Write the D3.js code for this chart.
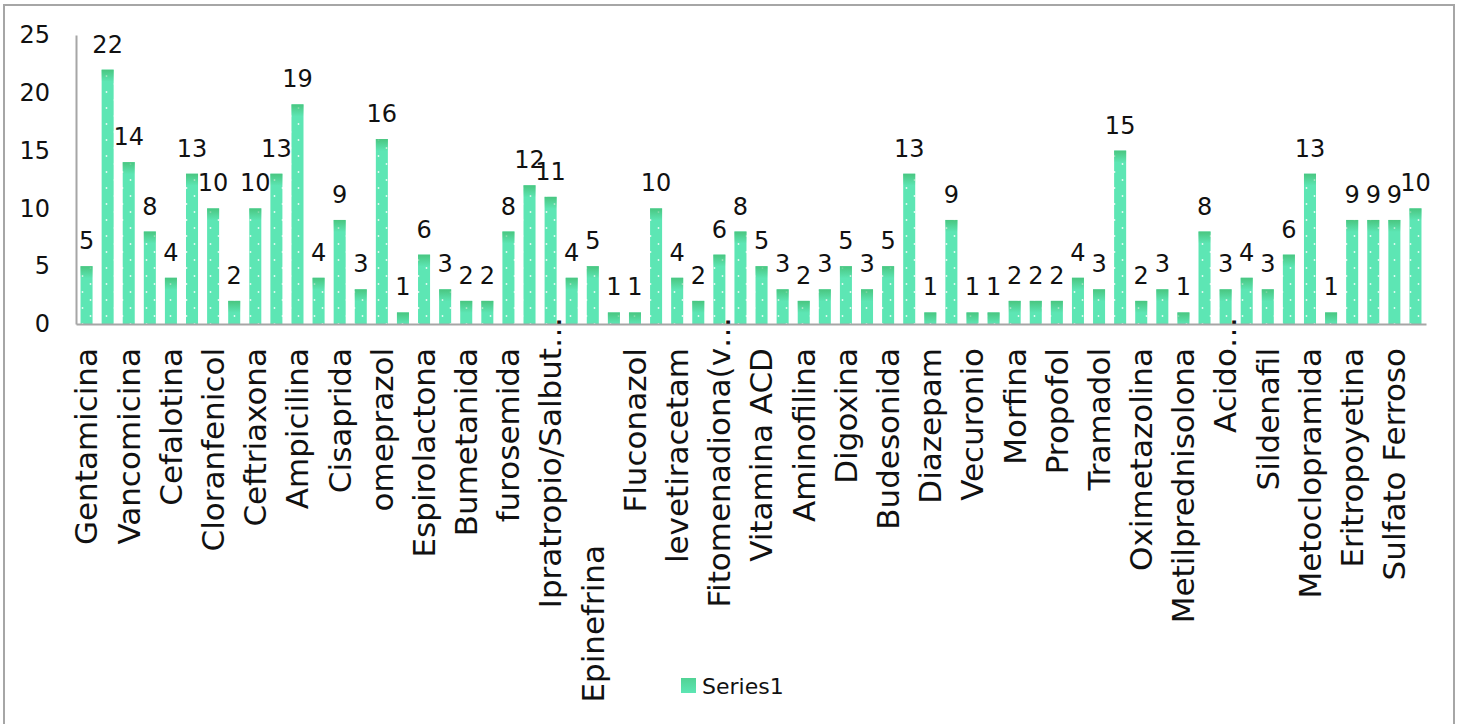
<!doctype html>
<html lang="en">
<head>
  <meta charset="utf-8">
  <title>Series1</title>
</head>

<style>
body {
	margin: 0;
	background: #fff;
	font-family: "Century Gothic", "DejaVu Sans", sans-serif;
}
</style>

<body>
  <script src="https://d3js.org/d3.v7.min.js"></script>
  <script>

	// only every other name is printed on the chart, the hidden ones are left empty
	var categories = [
		"Gentamicina", "", "Vancomicina", "", "Cefalotina", "", "Cloranfenicol", "",
		"Ceftriaxona", "", "Ampicilina", "", "Cisaprida", "", "omeprazol", "",
		"Espirolactona", "", "Bumetanida", "", "furosemida", "", "Ipratropio/Salbut…", "",
		"Epinefrina\u00a0\u00a0\u00a0\u00a0\u00a0\u00a0\u00a0\u00a0\u00a0\u00a0\u00a0\u00a0\u00a0\u00a0\u00a0\u00a0\u00a0\u00a0\u00a0\u00a0", "",
		"Fluconazol", "", "levetiracetam", "", "Fitomenadiona(v…", "",
		"Vitamina ACD", "", "Aminofilina", "", "Digoxina", "", "Budesonida", "",
		"Diazepam", "", "Vecuronio", "", "Morfina", "", "Propofol", "",
		"Tramadol", "", "Oximetazolina", "", "Metilprednisolona", "", "Acido…", "",
		"Sildenafil", "", "Metoclopramida", "", "Eritropoyetina", "", "Sulfato Ferroso", ""
	];

	var values = [
		5, 22, 14, 8, 4, 13, 10, 2, 10, 13, 19, 4, 9, 3, 16, 1,
		6, 3, 2, 2, 8, 12, 11, 4, 5, 1, 1, 10, 4, 2, 6, 8,
		5, 3, 2, 3, 5, 3, 5, 13, 1, 9, 1, 1, 2, 2, 2, 4,
		3, 15, 2, 3, 1, 8, 3, 4, 3, 6, 13, 1, 9, 9, 9, 10
	];

	var yTicks = [0, 5, 10, 15, 20, 25];
	var seriesName = "Series1";

	var mint = "#5de6b4",
		topGreen = "#47c27a",
		axisGrey = "#a6a6a6";

	var svg = d3.select("body").append("svg")
		.attr("width", 1461)
		.attr("height", 724);

	var plot = { left: 76, right: 1426, top: 35, bottom: 324 };

	var x = d3.scaleBand()
		.domain(d3.range(values.length))
		.range([plot.left, plot.right])
		.paddingInner(0.43)
		.paddingOuter(0.215);

	var y = d3.scaleLinear()
		.domain([0, 25])
		.range([plot.bottom, plot.top]);

	// dotted fill + darker green fade at the top of each bar
	var defs = svg.append("defs");

	var pat = defs.append("pattern")
		.attr("id", "dots")
		.attr("patternUnits", "userSpaceOnUse")
		.attr("width", 16)
		.attr("height", 16);
	pat.append("rect").attr("width", 16).attr("height", 16).attr("fill", mint);
	pat.append("circle").attr("cx", 2.5).attr("cy", 4).attr("r", 0.9).attr("fill", "#fff").attr("opacity", 0.85);
	pat.append("circle").attr("cx", 10.5).attr("cy", 12).attr("r", 0.9).attr("fill", "#fff").attr("opacity", 0.85);

	var grad = defs.append("linearGradient")
		.attr("id", "topfade")
		.attr("x1", 0).attr("y1", 0)
		.attr("x2", 0).attr("y2", 1);
	grad.append("stop").attr("offset", "0%").attr("stop-color", topGreen).attr("stop-opacity", 0.9);
	grad.append("stop").attr("offset", "100%").attr("stop-color", topGreen).attr("stop-opacity", 0);

	// chart frame
	svg.append("rect")
		.attr("x", 4)
		.attr("y", 5)
		.attr("width", 1450)
		.attr("height", 740)
		.attr("fill", "none")
		.attr("stroke", axisGrey)
		.attr("stroke-width", 2);

	// Bars
	svg.selectAll(".bar")
		.data(values)
		.join("rect")
		.classed("bar", true)
		.attr("x", function (d, i) { return x(i); })
		.attr("y", function (d) { return y(d); })
		.attr("width", x.bandwidth())
		.attr("height", function (d) { return y(0) - y(d); })
		.attr("fill", "url(#dots)");

	svg.selectAll(".bartop")
		.data(values)
		.join("rect")
		.classed("bartop", true)
		.attr("x", function (d, i) { return x(i); })
		.attr("y", function (d) { return y(d); })
		.attr("width", x.bandwidth())
		.attr("height", function (d) { return Math.min(12, y(0) - y(d)); })
		.attr("fill", "url(#topfade)");

	// Y axis
	var yAxis = svg.append("g")
		.attr("transform", "translate(" + plot.left + ",0)")
		.call(d3.axisLeft(y).tickValues(yTicks).tickSize(0).tickSizeOuter(0).tickPadding(26));
	yAxis.select(".domain").attr("stroke", axisGrey).attr("stroke-width", 2);
	yAxis.selectAll("text")
		.attr("font-family", "Century Gothic, DejaVu Sans, sans-serif")
		.attr("font-size", "24px")
		.attr("fill", "#111");

	// X axis
	var xAxis = svg.append("g")
		.attr("transform", "translate(0," + plot.bottom + ")")
		.call(d3.axisBottom(x)
			.tickValues(d3.range(0, values.length, 2))
			.tickSize(0)
			.tickSizeOuter(0)
			.tickFormat(function (i) { return categories[i]; }));
	xAxis.select(".domain").attr("stroke", axisGrey).attr("stroke-width", 2);
	xAxis.selectAll("text")
		.attr("font-family", "Century Gothic, DejaVu Sans, sans-serif")
		.attr("font-size", "31px")
		.attr("fill", "#111")
		.attr("text-anchor", "end")
		.attr("transform", "rotate(-90)")
		.attr("y", 0)
		.attr("dy", "0.35em")
		.attr("x", function (i) {
			// truncated names: the ellipsis sticks out above the others
			var t = categories[i];
			if (t.slice(-1) === "…") {
				return -24 + this.getSubStringLength(t.length - 1, 1);
			}
			return -24;
		});

	// Data labels
	svg.selectAll(".vals")
		.data(values)
		.join("text")
		.classed("vals", true)
		.attr("x", function (d, i) { return x(i) + x.bandwidth() / 2; })
		.attr("y", function (d) { return y(d) - 17; })
		.attr("text-anchor", "middle")
		.attr("font-size", "24px")
		.attr("fill", "#111")
		.text(function (d) { return d; });

	// Legend
	var legend = svg.append("g").attr("transform", "translate(681,678)");
	legend.append("rect").attr("width", 15).attr("height", 15).attr("fill", mint);
	legend.append("rect").attr("width", 15).attr("height", 15).attr("fill", "url(#topfade)").attr("opacity", 0.6);
	legend.append("text")
		.attr("x", 21)
		.attr("y", 8)
		.attr("dy", "0.35em")
		.attr("font-size", "22px")
		.attr("fill", "#111")
		.text(seriesName);

  </script>
</body>
</html>
